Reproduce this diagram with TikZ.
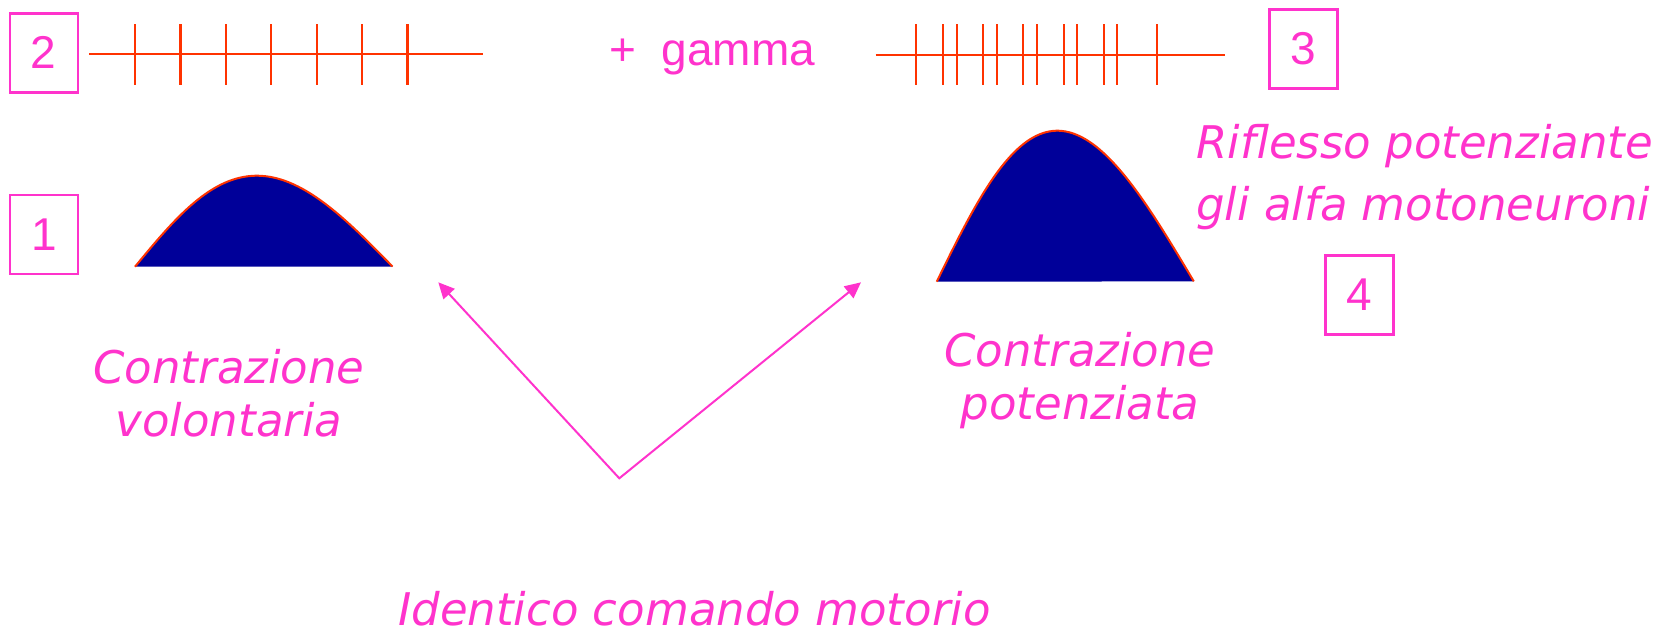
\documentclass[tikz,border=0pt]{standalone}
\usepackage{fontspec}
\setmainfont{Liberation Sans}
\newfontfamily\comicfont{DejaVu Sans}
\usetikzlibrary{arrows.meta}
\definecolor{pinkish}{HTML}{FF33CC}
\definecolor{spikered}{HTML}{FF3300}
\definecolor{humpblue}{HTML}{000099}
\tikzset{
  numbox/.style={draw=pinkish,line width=2.4pt,text=pinkish,minimum width=68pt,minimum height=79pt,inner sep=0pt,font=\fontsize{46}{46}\selectfont},
  train/.style={spikered,line width=2.2pt},
  hump/.style={fill=humpblue,draw=none},
  humpedge/.style={spikered,line width=2pt},
  cmdarrow/.style={{Triangle[length=16pt,width=15pt]}-{Triangle[length=16pt,width=15pt]},pinkish,line width=2pt},
  note/.style={text=pinkish,inner sep=0pt,font=\comicfont\itshape\fontsize{45}{53}\selectfont}
}

\begin{document}
\begin{tikzpicture}[x=1pt,y=-1pt]
    \useasboundingbox (0,0) rectangle (1661,630);
    % spike trains
    \draw[train] (89,54.3)--(483,54.3);
    \foreach \t in {0,...,6} \draw[train] ({135+45.4*\t},24)--++(0,61.3);
    \draw[train] (875.7,54.7)--(1225,54.7);
    \foreach \s in {916,943.3,956.7,983.3,996.7,1023.3,1036.7,1063.7,1077.3,1104,1117.3,1157.3}
      \draw[train] (\s,24)--++(0,61.3);
    \node[anchor=base west,text=pinkish,inner sep=0pt,font=\fontsize{46}{46}\selectfont] (gamma) at (609,65){+~~gamma};
    % contractions
    \fill[hump] plot[domain=0:1,samples=80] ({135+257.7*\x-7*sin(180*\x)},{266.7-91*sin(180*\x)})--cycle;
    \draw[humpedge] plot[domain=0:1,samples=80] ({135+257.7*\x-7*sin(180*\x)},{266.7-91*sin(180*\x)});
    \fill[hump] plot[domain=0:1,samples=80] ({936.7+257.3*\x-8*sin(180*\x)},{281.7-151*sin(180*\x)})--cycle;
    \draw[humpedge] plot[domain=0:1,samples=80] ({936.7+257.3*\x-8*sin(180*\x)},{281.7-151*sin(180*\x)});
    % numbered boxes
    \node[numbox] (n1) at (44,234.7){1};
    \node[numbox] (n2) at (43.7,52.8){2};
    \node[numbox] (n3) at (1303.3,49){3};
    \node[numbox] (n4) at (1359.5,295){4};
    % labels (base = baseline of the last line)
    \node[note,align=center,anchor=base] (vol) at (229,436){Contrazione\\volontaria};
    \node[note,align=center,anchor=base] (pot) at (1080,419){Contrazione\\potenziata};
    \node[note,align=left,anchor=base west,font=\comicfont\itshape\fontsize{45}{62}\selectfont] (rifl) at (1196,220){Riflesso potenziante\\gli alfa motoneuroni};
    \node[note,anchor=base west] (cmd) at (398,625){Identico comando motorio};
    % same motor command
    \coordinate (fork) at (619.3,478.3);
    \coordinate (vol tip) at (438.3,282.3);
    \coordinate (pot tip) at (861,282.3);
    \draw[cmdarrow] (vol tip)--(fork)--(pot tip);
  \end{tikzpicture}
\end{document}
